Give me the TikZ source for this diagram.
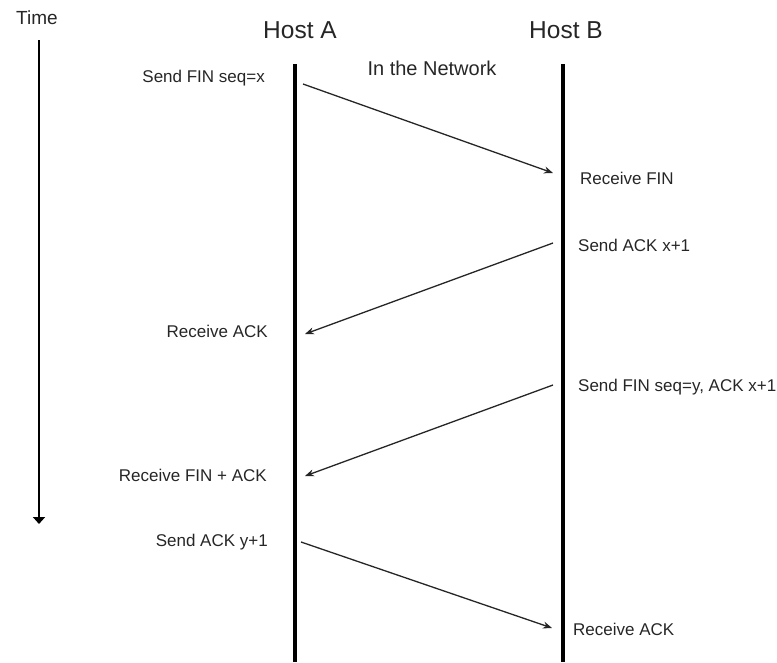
\documentclass[tikz,border=0pt]{standalone}
\usepackage{fontspec}
\setmainfont{Liberation Sans}
\usetikzlibrary{arrows.meta}
\begin{document}
\begin{tikzpicture}[x=1pt,y=-1pt,
  lbl/.style={inner sep=0pt, font=\fontsize{17}{19}\selectfont, text=black!85},
  hostlbl/.style={inner sep=0pt, font=\fontsize{24.5}{27}\selectfont, text=black!85},
  hostline/.style={line width=4.5pt, black},
  msg/.style={line width=1.3pt, black!85, -{Stealth[length=9pt,width=7pt]}},
  timearrow/.style={line width=2.8pt, black, -{Triangle[length=7pt,width=12pt]}}]
\useasboundingbox (0,0) rectangle (777,662);
% labels
\node[lbl, font=\fontsize{19}{21}\selectfont] (time) at (37,18) {Time};
\node[hostlbl] (hA) at (300,30) {Host A};
\node[hostlbl] (hB) at (566,30) {Host B};
\node[lbl, font=\fontsize{20}{22}\selectfont] (net) at (432,68) {In the Network};
% lifelines
\coordinate (t0) at (39,40); \coordinate (t1) at (39,524);
\coordinate (a0) at (295,64); \coordinate (a1) at (295,662);
\coordinate (b0) at (563,64); \coordinate (b1) at (563,662);
\draw[timearrow] (t0) -- (t1);
\draw[hostline] (a0) -- (a1);
\draw[hostline] (b0) -- (b1);
% message endpoints
\coordinate (m1s) at (303,84);  \coordinate (m1e) at (553,173);
\coordinate (m2s) at (553,243); \coordinate (m2e) at (305,334);
\coordinate (m3s) at (553,385); \coordinate (m3e) at (305,476);
\coordinate (m4s) at (301,542); \coordinate (m4e) at (552,628);
\draw[msg] (m1s) -- (m1e);
\draw[msg] (m2s) -- (m2e);
\draw[msg] (m3s) -- (m3e);
\draw[msg] (m4s) -- (m4e);
% message labels
\node[lbl, anchor=east] (l1) at (265,78) {Send FIN seq=x};
\node[lbl, anchor=west] (l2) at (580,178) {Receive FIN};
\node[lbl, anchor=west] (l3) at (578,245) {Send ACK x+1};
\node[lbl, anchor=east] (l4) at (268,331) {Receive ACK};
\node[lbl, anchor=west] (l5) at (578,387) {Send FIN seq=y, ACK x+1};
\node[lbl, anchor=east] (l6) at (267,475) {Receive FIN + ACK};
\node[lbl, anchor=east] (l7) at (268,542) {Send ACK y+1};
\node[lbl, anchor=west] (l8) at (573,629) {Receive ACK};
\end{tikzpicture}
\end{document}
